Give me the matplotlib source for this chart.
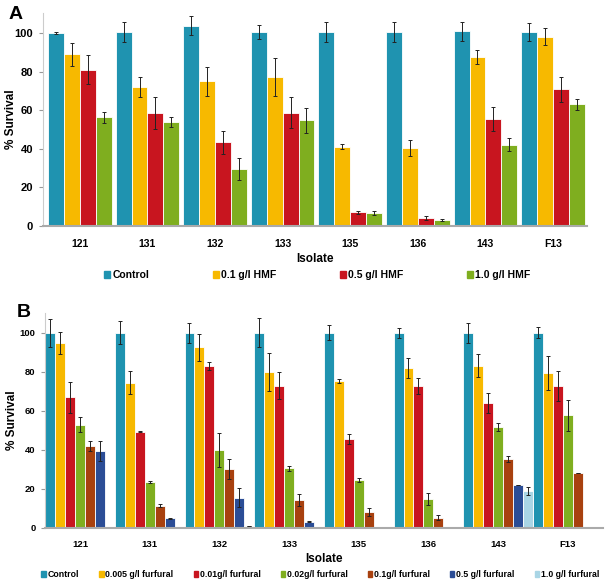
import numpy as np
import matplotlib
matplotlib.use("Agg")
from matplotlib import pyplot as plt

plt.rcParams['font.family'] = ['Liberation Sans', 'DejaVu Sans']

isolates = ['121', '131', '132', '133', '135', '136', '143', 'F13']

# panel A - HMF
hmf_labels = ['Control', '0.1 g/l HMF', '0.5 g/l HMF', '1.0 g/l HMF']
hmf_control = [100.0, 100.7, 103.8, 100.7, 100.5, 100.5, 100.9, 100.5]
hmf_01 = [88.9, 72.0, 74.9, 77.3, 41.2, 40.3, 87.5, 98.1]
hmf_05 = [81.1, 58.7, 43.3, 58.7, 7.1, 4.2, 55.5, 70.8]
hmf_10 = [56.4, 53.8, 29.4, 54.7, 6.6, 3.1, 42.2, 63.0]
hmf_control_err = [0.5, 5.1, 4.9, 3.6, 5.0, 5.0, 5.0, 4.5]
hmf_01_err = [5.9, 5.1, 7.7, 9.7, 1.5, 4.2, 3.5, 4.3]
hmf_05_err = [7.6, 8.2, 5.8, 8.0, 0.7, 1.0, 6.4, 6.6]
hmf_10_err = [2.8, 2.6, 5.7, 6.3, 1.0, 0.7, 3.2, 2.9]

# panel B - furfural
fur_labels = ['Control', '0.005 g/l furfural', '0.01g/l furfural', '0.02g/l furfural',
              '0.1g/l furfural', '0.5 g/l furfural', '1.0 g/l furfural']
fur_control = [100.0, 100.0, 99.7, 100.0, 100.0, 100.0, 100.0, 100.0]
fur_0005 = [94.5, 74.4, 92.5, 80.0, 75.0, 82.0, 83.1, 79.3]
fur_001 = [66.8, 49.2, 82.9, 72.8, 45.5, 72.8, 63.9, 72.5]
fur_002 = [52.8, 23.2, 39.8, 30.4, 24.4, 14.5, 51.6, 57.6]
fur_01 = [41.7, 11.3, 29.9, 14.0, 7.9, 5.1, 35.2, 27.9]
fur_05 = [39.1, 4.8, 15.4, 2.9, 0.0, 0.0, 21.7, 0.0]
fur_10 = [0.0, 0.0, 0.9, 0.0, 0.0, 0.2, 18.6, 0.5]
fur_control_err = [7.2, 6.0, 5.0, 7.4, 3.8, 2.6, 5.1, 3.0]
fur_0005_err = [5.7, 6.0, 7.0, 9.7, 1.0, 5.1, 6.0, 8.7]
fur_001_err = [7.8, 0.3, 1.9, 6.8, 2.6, 4.1, 5.3, 7.6]
fur_002_err = [3.7, 0.5, 8.9, 1.4, 0.9, 3.0, 2.0, 8.0]
fur_01_err = [2.6, 1.0, 5.1, 3.2, 2.0, 1.1, 1.7, 0.0]
fur_05_err = [5.1, 0.3, 5.1, 0.3, 0.0, 0.0, 0.0, 0.0]
fur_10_err = [0.0, 0.0, 0.0, 0.0, 0.0, 0.0, 2.0, 0.0]

colors = ['#1f93b0', '#f7b900', '#c8151f', '#7fae1f', '#a8410f', '#2b4d96', '#a9d5e5']

fig = plt.figure(figsize=(6.1, 5.81), dpi=100)


def draw_panel(ax, series, errs, width, xfs, yfs, lfs, ylab_x):
    x = np.arange(len(isolates))
    n = len(series)
    for i in range(n):
        pos = x + (i - (n - 1) / 2) * width
        ax.bar(pos, series[i], width, color=colors[i], edgecolor='white', linewidth=0.6)
        ax.errorbar(pos, series[i], yerr=errs[i], fmt='none', ecolor='#222222',
                    elinewidth=0.7, capsize=1.5, capthick=0.7)
    ax.set_xticks(x)
    ax.set_xticklabels(isolates, fontsize=xfs, fontweight='bold')
    ax.set_yticks([0, 20, 40, 60, 80, 100])
    ax.set_yticklabels(['0', '20', '40', '60', '80', '100'], fontsize=yfs, fontweight='bold')
    ax.tick_params(axis='x', length=0, pad=9)
    ax.tick_params(axis='y', length=3, color='#999999', pad=4)
    for s in ['top', 'right']:
        ax.spines[s].set_visible(False)
    ax.spines['left'].set_color('#cccccc')
    ax.spines['bottom'].set_color('#aaaaaa')
    ax.spines['bottom'].set_linewidth(1.5)
    ax.set_ylabel('% Survival', fontsize=lfs, fontweight='bold')
    ax.yaxis.set_label_coords(ylab_x, 0.5)
    ax.set_xlabel('Isolate', fontsize=lfs, fontweight='bold', labelpad=3)


axA = fig.add_axes([0.070, 0.611, 0.892, 0.367])
draw_panel(axA, [hmf_control, hmf_01, hmf_05, hmf_10],
           [hmf_control_err, hmf_01_err, hmf_05_err, hmf_10_err], 0.235,
           7.5, 8, 8.5, -0.047)
axA.set_xlim(-0.55, 7.5)
axA.set_ylim(0, 110.5)
hA = [plt.Rectangle((0, 0), 1, 1, color=c) for c in colors[:4]]
fig.legend(hA, hmf_labels, loc='center', bbox_to_anchor=(0.520, 0.526), ncol=4,
           frameon=False, prop={'size': 7.5, 'weight': 'bold'},
           handlelength=0.6, handleheight=0.6, handletextpad=0.2, columnspacing=6.1)
fig.text(0.014, 0.975, 'A', fontsize=14, fontweight='bold', va='center')

axB = fig.add_axes([0.074, 0.092, 0.915, 0.369])
draw_panel(axB, [fur_control, fur_0005, fur_001, fur_002, fur_01, fur_05, fur_10],
           [fur_control_err, fur_0005_err, fur_001_err, fur_002_err, fur_01_err,
            fur_05_err, fur_10_err], 1 / 7, 6.8, 6.8, 8.5, -0.049)
axB.set_xlim(-0.5, 7.51)
axB.set_ylim(0, 110)
hB = [plt.Rectangle((0, 0), 1, 1, color=c) for c in colors]
fig.legend(hB, fur_labels, loc='center', bbox_to_anchor=(0.525, 0.011), ncol=7,
           frameon=False, prop={'size': 6.3, 'weight': 'bold'},
           handlelength=0.5, handleheight=0.6, handletextpad=0.2, columnspacing=2.3)
fig.text(0.028, 0.462, 'B', fontsize=14, fontweight='bold', va='center')

fig.savefig('out.png', dpi=100)
